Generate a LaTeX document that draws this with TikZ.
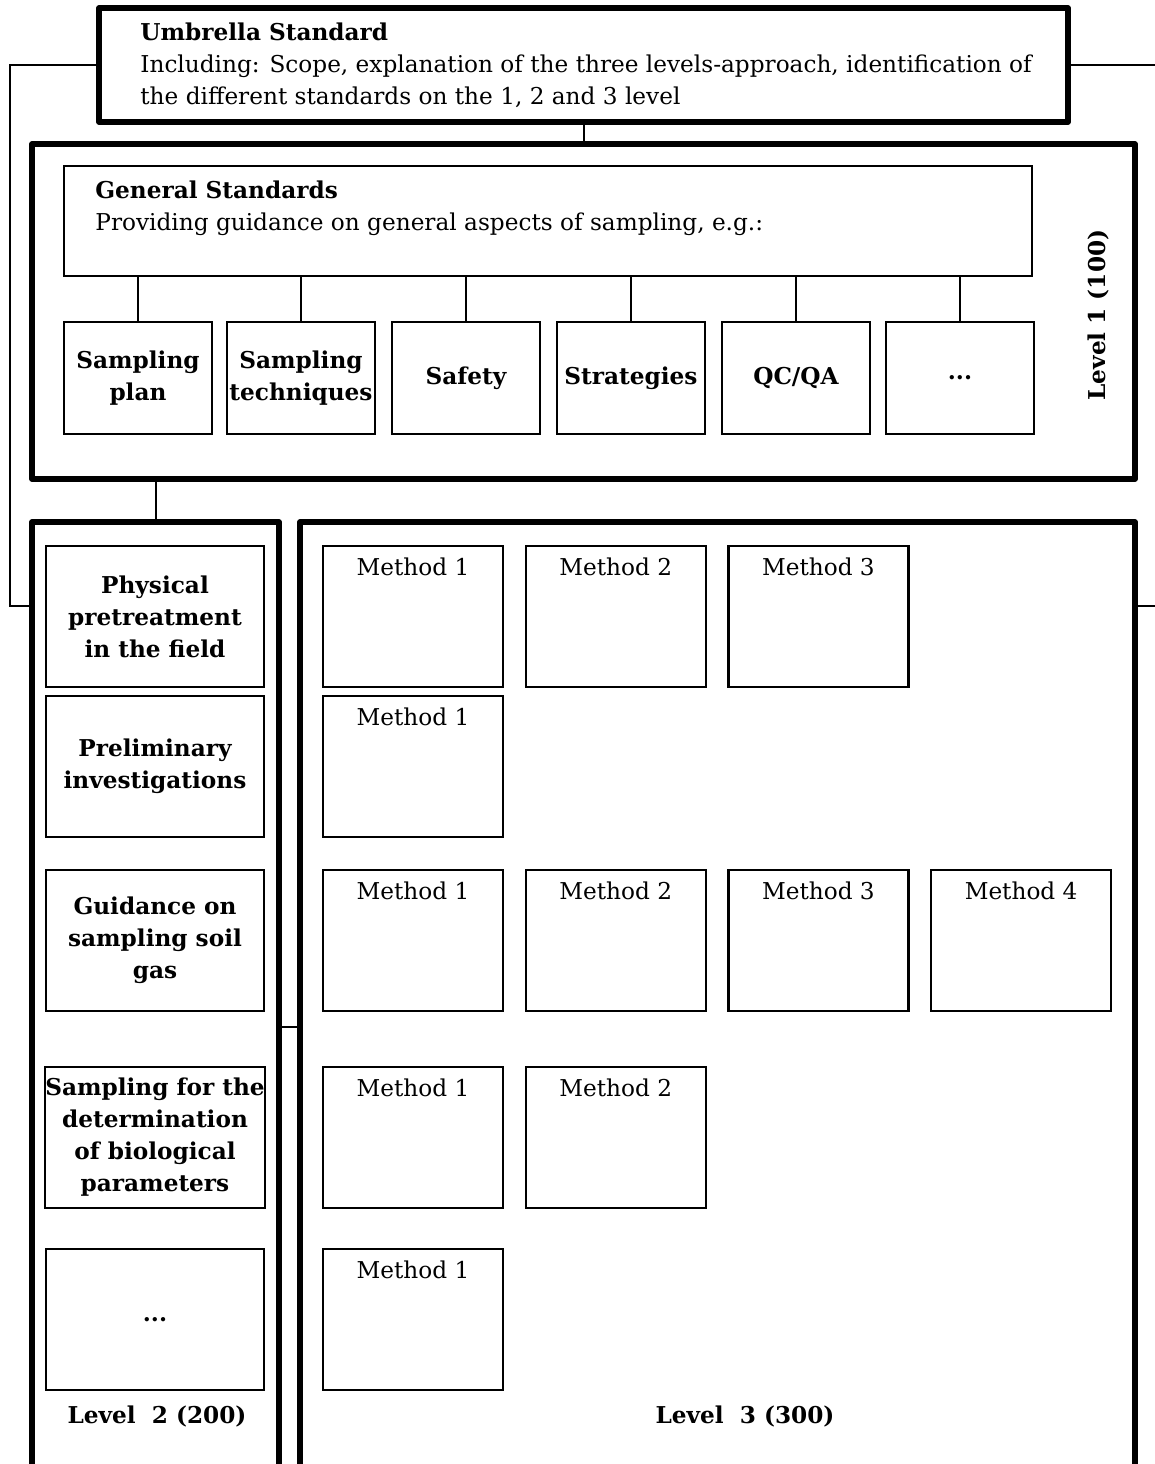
\documentclass[tikz,border=0pt]{standalone}
\usepackage{fontspec}
\setmainfont{DejaVu Serif}
\usetikzlibrary{positioning, calc}

\begin{document}
\begin{tikzpicture}[
    x=0.5pt, y=-0.5pt,
    every node/.style={font=\fontsize{11.6}{16}\selectfont},
    outerbox/.style={rectangle, draw=black, line width=2.6pt, line join=round},
    topicbox/.style={rectangle, draw=black, line width=1.2pt, inner xsep=0pt, align=center, font=\fontsize{11.6}{16}\selectfont\bfseries},
    methodbox/.style={rectangle, draw=black, line width=1.2pt, minimum width=90pt, minimum height=70.5pt},
    levellabel/.style={font=\fontsize{11.6}{16}\selectfont\bfseries},
    link/.style={line width=1pt},
  ]
  \clip (0,0) rectangle (1155,1464);

  % Umbrella
  \node[outerbox, minimum width=484.5pt, minimum height=57pt] (umbrella) at (583.5,65) {};
  \node[anchor=west, align=left, inner sep=0pt] (umbrellatxt) at (140,65)
    {\textbf{Umbrella Standard}\\Including: Scope, explanation of the three levels-approach, identification of\\the different standards on the 1, 2 and 3 level};

  % Level 1
  \node[outerbox, minimum width=551.5pt, minimum height=167.5pt] (lvl1) at (583.5,311.5) {};
  \node[rectangle, draw=black, line width=1.2pt, minimum width=484pt, minimum height=55pt] (general) at (548,221) {};
  \node[anchor=north west, align=left, inner sep=0pt] (generaltxt) at (95,180)
    {\textbf{General Standards}\\Providing guidance on general aspects of sampling, e.g.:};
  \node[levellabel, rotate=90] (lvl1txt) at (1098,315) {Level 1 (100)};

  \foreach \name/\xc/\txt in {plan/138/{Sampling\\plan}, techniques/301/{Sampling\\techniques},
      safety/466/{Safety}, strategies/631/{Strategies}, qcqa/796/{QC/QA}, more/960/{...}} {
    \node[topicbox, minimum width=74pt, minimum height=56pt] (\name) at (\xc,378) {\txt};
    \draw[link] (\name.north |- general.south) -- (\name.north);
  }

  % Level 2 and 3
  \node[outerbox, minimum width=123.5pt, minimum height=505pt] (lvl2) at (155.5,1027) {};
  \node[outerbox, minimum width=417.5pt, minimum height=505pt] (lvl3) at (717.5,1027) {};

  \node[topicbox, minimum width=109pt, minimum height=70.5pt] (physical) at (155,616.5) {Physical\\pretreatment\\in the field};
  \node[topicbox, minimum width=109pt, minimum height=70.5pt] (preliminary) at (155,766.5) {Preliminary\\investigations};
  \node[topicbox, minimum width=109pt, minimum height=70.5pt] (soilgas) at (155,940.5) {Guidance on\\sampling soil\\gas};
  \node[topicbox, minimum width=109pt, minimum height=70.5pt] (biological) at (155,1137.5) {Sampling for the\\determination\\of biological\\parameters};
  \node[topicbox, minimum width=109pt, minimum height=70.5pt] (further) at (155,1319.5) {...};

  \foreach \r/\yc/\n in {1/616.5/3, 2/766.5/1, 3/940.5/4, 4/1137.5/2, 5/1319.5/1} {
    \foreach \m in {1,...,\n} {
      \node[methodbox, label={[anchor=north, inner sep=0pt, yshift=-6.5pt]north:Method \m}] (m-\r-\m) at ({413+202.7*(\m-1)},\yc) {};
    }
  }

  \node[levellabel] (lvl2txt) at (157,1416) {Level\ \ 2 (200)};
  \node[levellabel] (lvl3txt) at (745,1416) {Level\ \ 3 (300)};

  % Connectors
  \coordinate (bendL) at (10,606);
  \coordinate (edgeR) at (1160,65);
  \coordinate (edgeR2) at (1160,606);
  \draw[link] (umbrella.west) -| (bendL) -- (bendL -| lvl2.west);
  \draw[link] (umbrella.east) -- (edgeR);
  \draw[link] (edgeR2 -| lvl3.east) -- (edgeR2);
  \draw[link] (umbrella.south) -- (umbrella.south |- lvl1.north);
  \draw[link] (lvl2.north |- lvl1.south) -- (lvl2.north);
  \draw[link] (lvl2.east) -- (lvl3.west);

\end{tikzpicture}
\end{document}
